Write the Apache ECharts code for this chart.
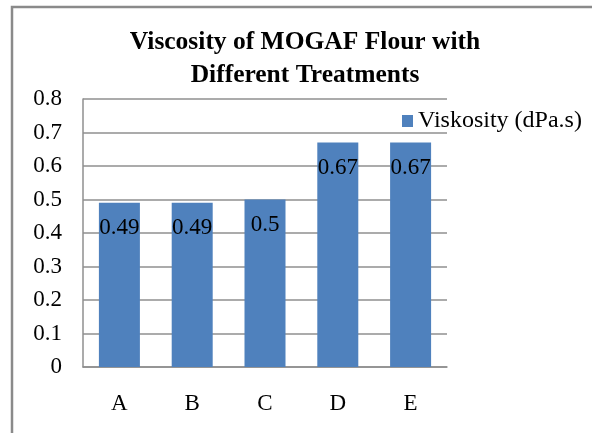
<!DOCTYPE html>
<html>
<head>
<meta charset="utf-8">
<script src="https://cdn.jsdelivr.net/npm/echarts@6/dist/echarts.min.js"></script>
<style>
  html, body { margin: 0; padding: 0; background: #fff; }
  #chart { width: 592px; height: 433px; }
</style>
</head>
<body>
<div id="chart"></div>
<script>
// data
const categories = ['A', 'B', 'C', 'D', 'E']
const viscosity = [0.49, 0.49, 0.5, 0.67, 0.67]
const seriesName = 'Viskosity (dPa.s)'
const titleText = 'Viscosity of MOGAF Flour with\nDifferent Treatments'

const serif = '"Liberation Serif", "DejaVu Serif", serif'
const gridGray = '#8f8f8f'

let myChart = echarts.init(document.getElementById('chart'))
myChart.setOption({
  backgroundColor: '#fff',
  animation: false,
  title: {
    text: titleText,
    left: 305,
    top: 26,
    padding: 0,
    textAlign: 'center',
    textStyle: {
      fontFamily: serif,
      fontWeight: 'bold',
      fontSize: 25.5,
      lineHeight: 33,
      color: '#000'
    }
  },
  legend: {
    left: 402,
    top: 109,
    padding: 0,
    itemWidth: 11,
    itemHeight: 12,
    icon: 'rect',
    itemGap: 5,
    textStyle: {
      fontFamily: serif,
      fontSize: 24,
      color: '#000'
    },
    data: [seriesName]
  },
  // outer frame of the chart
  graphic: [
    {
      type: 'rect',
      shape: { x: 12, y: 7, width: 700, height: 600 },
      style: { fill: 'none', stroke: '#8a8a8a', lineWidth: 2.5 },
      silent: true
    }
  ],
  grid: {
    left: 83,
    right: 145,
    top: 99,
    bottom: 66
  },
  xAxis: {
    type: 'category',
    data: categories,
    axisTick: { show: false },
    axisLine: { lineStyle: { color: gridGray, width: 1.5 } },
    axisLabel: {
      margin: 25,
      fontFamily: serif,
      fontSize: 23,
      color: '#000'
    }
  },
  yAxis: {
    type: 'value',
    min: 0,
    max: 0.8,
    interval: 0.1,
    axisTick: { show: false },
    axisLine: { show: true, lineStyle: { color: gridGray, width: 1.5 } },
    splitLine: { lineStyle: { color: gridGray, width: 1.5 } },
    axisLabel: {
      margin: 21,
      fontFamily: serif,
      fontSize: 23,
      color: '#000'
    }
  },
  series: [
    {
      name: seriesName,
      type: 'bar',
      data: viscosity,
      barWidth: 41,
      itemStyle: { color: '#4F81BD' },
      label: {
        show: true,
        position: 'insideTop',
        distance: 14,
        fontFamily: serif,
        fontSize: 23,
        color: '#000'
      }
    }
  ]
})
</script>
</body>
</html>
